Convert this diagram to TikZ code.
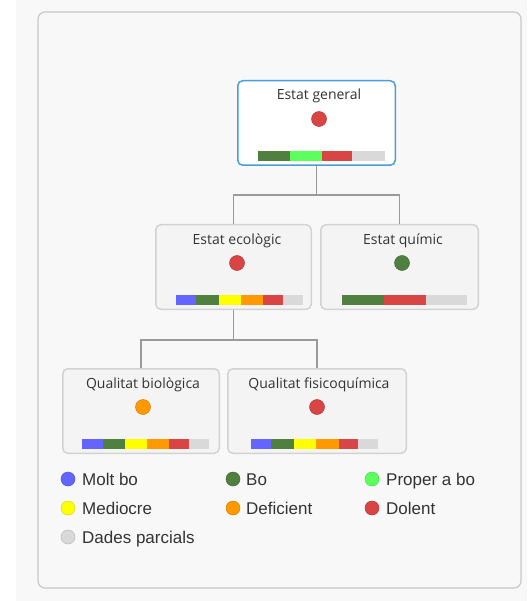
\documentclass[tikz,border=0pt]{standalone}
\usepackage{fontspec}
\setmainfont{Liberation Sans}
\newfontfamily\titlefont{Open Sans}
\definecolor{cmolt}{HTML}{6464FF}
\definecolor{cbo}{HTML}{508040}
\definecolor{cprop}{HTML}{5CFF5C}
\definecolor{cmed}{HTML}{FFFF00}
\definecolor{cdef}{HTML}{FF9900}
\definecolor{cdol}{HTML}{D94444}
\definecolor{cpar}{HTML}{D9D9D9}
\definecolor{bggray}{HTML}{F8F8F8}
\definecolor{panelline}{HTML}{C8C8C8}
\definecolor{boxline}{HTML}{D2D2D2}
\definecolor{boxfill}{HTML}{F4F4F4}
\definecolor{selblue}{HTML}{4A9ED8}
\definecolor{linegray}{HTML}{9A9A9A}
\definecolor{txt}{HTML}{333333}

\newcommand{\ratebar}[2]{\foreach \a/\b/\c in {#2} \fill[\c] (\a,#1) rectangle (\b,#1+10);}

\begin{document}
\begin{tikzpicture}[x=1pt,y=-1pt,
  box/.style={draw=boxline,line width=1.5pt,fill=boxfill,rounded corners=5pt,minimum height=84.5pt,inner sep=0pt},
  ttl/.style={font=\titlefont\fontsize{14}{16}\selectfont,text=txt,inner sep=0pt,anchor=base},
  dot/.style={circle,inner sep=0pt,minimum size=15pt,fill=#1,draw=#1!85!black,line width=0.5pt},
  conn/.style={draw=linegray,line width=1.6pt},
  key/.style={font=\fontsize{17}{20}\selectfont,text=txt,inner sep=0pt,anchor=base west}]
\useasboundingbox (0,0) rectangle (527,601);
\fill[white] (0,0) rectangle (527,601);
\fill[bggray] (16,0) rectangle (527,601);
\draw[panelline,fill=bggray,line width=1.2pt,rounded corners=7pt] (38,12) rectangle (521,588);

% tree
\node[box,draw=selblue,fill=white,minimum width=157.5pt] (gen) at (316.5,123) {};
\node[box,minimum width=155.5pt] (eco) at (233.5,267) {};
\node[box,minimum width=157.5pt] (qui) at (399.5,267) {};
\node[box,minimum width=156.5pt] (bio) at (141,411) {};
\node[box,minimum width=178.5pt] (fis) at (317,411) {};

\coordinate (j1) at (316.5,195);
\coordinate (j2) at (233.5,340);
\draw[conn] (gen.south) -- (j1);
\draw[conn] (eco.north) |- (j1) -| (qui.north);
\draw[conn] (eco.south) -- (j2);
\draw[conn] (bio.north) |- (j2) -| (fis.north);

\node[ttl] (gen-t) at (319,100) {Estat general};
\node[ttl] (eco-t) at (237,244) {Estat ecològic};
\node[ttl] (qui-t) at (403,244) {Estat químic};
\node[ttl] (bio-t) at (143,388) {Qualitat biològica};
\node[ttl] (fis-t) at (319,388) {Qualitat fisicoquímica};

\node[dot=cdol] (gen-d) at (319,119) {};
\node[dot=cdol] (eco-d) at (237,263) {};
\node[dot=cbo] (qui-d) at (402,263) {};
\node[dot=cdef] (bio-d) at (143,407) {};
\node[dot=cdol] (fis-d) at (317,407) {};

\ratebar{151}{258/290/cbo,290/322/cprop,322/352/cdol,352/385/cpar}
\ratebar{295}{176/196/cmolt,196/219/cbo,219/241/cmed,241/263/cdef,263/283/cdol,283/303/cpar}
\ratebar{295}{342/384/cbo,384/426/cdol,426/467/cpar}
\ratebar{439}{82/103/cmolt,103/125/cbo,125/147/cmed,147/169/cdef,169/189/cdol,189/209/cpar}
\ratebar{439}{251/271/cmolt,271/294/cbo,294/316/cmed,316/339/cdef,339/358/cdol,358/378/cpar}

% legend
\node[dot=cmolt,minimum size=14pt] (k1) at (68,479) {};
\node[dot=cbo,minimum size=14pt] (k2) at (233,479) {};
\node[dot=cprop,minimum size=14pt] (k3) at (372,479) {};
\node[dot=cmed,minimum size=14pt] (k4) at (68,508) {};
\node[dot=cdef,minimum size=14pt] (k5) at (233,508) {};
\node[dot=cdol,minimum size=14pt] (k6) at (372,508) {};
\node[dot=cpar,minimum size=14pt] (k7) at (68,537) {};
\node[key] (k1-t) at (82,485) {Molt bo};
\node[key] (k2-t) at (246,485) {Bo};
\node[key] (k3-t) at (386,485) {Proper a bo};
\node[key] (k4-t) at (82,514) {Mediocre};
\node[key] (k5-t) at (246,514) {Deficient};
\node[key] (k6-t) at (386,514) {Dolent};
\node[key] (k7-t) at (82,543) {Dades parcials};
\end{tikzpicture}
\end{document}
